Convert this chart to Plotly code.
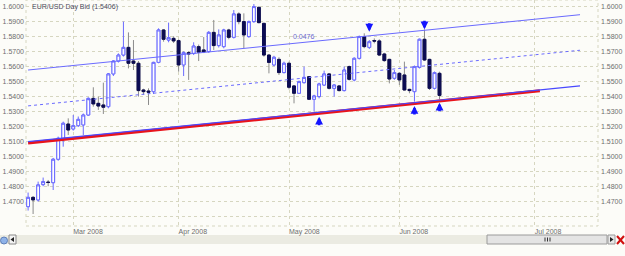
import plotly.graph_objects as go
import pandas as pd

title_text = "EUR/USD Day Bid (1.5406)"

dates = pd.bdate_range("2008-02-19", "2008-06-12")

opens = [1.4664, 1.4726, 1.4709, 1.4811, 1.4828, 1.4824, 1.4980, 1.5120, 1.5215, 1.5182,
         1.5204, 1.5209, 1.5275, 1.5386, 1.5353, 1.5342, 1.5331, 1.5549, 1.5635, 1.5675,
         1.5726, 1.5635, 1.5620, 1.5442, 1.5435, 1.5431, 1.5626, 1.5842, 1.5775, 1.5786,
         1.5771, 1.5609, 1.5691, 1.5686, 1.5731, 1.5709, 1.5698, 1.5826, 1.5738, 1.5731,
         1.5842, 1.5793, 1.5949, 1.5898, 1.5798, 1.5898, 1.5993, 1.5886, 1.5675, 1.5609,
         1.5646, 1.5558, 1.5620, 1.5469, 1.5420, 1.5491, 1.5531, 1.5380, 1.5398, 1.5475,
         1.5549, 1.5453, 1.5469, 1.5438, 1.5598, 1.5509, 1.5653, 1.5798, 1.5726, 1.5772,
         1.5769, 1.5682, 1.5646, 1.5520, 1.5553, 1.5542, 1.5446, 1.5431, 1.5593, 1.5780,
         1.5646, 1.5453, 1.5553]
highs = [1.4758, 1.4735, 1.4831, 1.4858, 1.4842, 1.4989, 1.5131, 1.5231, 1.5253, 1.5275,
         1.5265, 1.5285, 1.5393, 1.5460, 1.5398, 1.5491, 1.5555, 1.5640, 1.5686, 1.5898,
         1.5826, 1.5775, 1.5635, 1.5450, 1.5453, 1.5630, 1.5853, 1.5848, 1.5891, 1.5800,
         1.5780, 1.5700, 1.5700, 1.5760, 1.5745, 1.5795, 1.5835, 1.5909, 1.5846, 1.5850,
         1.5850, 1.5975, 1.5960, 1.5953, 1.5905, 1.6015, 1.5998, 1.5890, 1.5680, 1.5670,
         1.5660, 1.5631, 1.5631, 1.5475, 1.5505, 1.5598, 1.5535, 1.5410, 1.5490, 1.5571,
         1.5555, 1.5480, 1.5475, 1.5598, 1.5605, 1.5660, 1.5805, 1.5820, 1.5775, 1.5786,
         1.5780, 1.5690, 1.5650, 1.5575, 1.5560, 1.5631, 1.5450, 1.5605, 1.5785, 1.5846,
         1.5650, 1.5565, 1.5564]
lows = [1.4638, 1.4615, 1.4698, 1.4800, 1.4800, 1.4775, 1.4970, 1.5064, 1.5142, 1.5171,
        1.5195, 1.5142, 1.5270, 1.5331, 1.5309, 1.5282, 1.5320, 1.5535, 1.5625, 1.5665,
        1.5586, 1.5575, 1.5398, 1.5410, 1.5342, 1.5415, 1.5620, 1.5764, 1.5760, 1.5755,
        1.5564, 1.5535, 1.5509, 1.5675, 1.5635, 1.5688, 1.5690, 1.5709, 1.5725, 1.5720,
        1.5780, 1.5785, 1.5880, 1.5720, 1.5790, 1.5890, 1.5886, 1.5664, 1.5553, 1.5600,
        1.5542, 1.5553, 1.5446, 1.5353, 1.5415, 1.5485, 1.5375, 1.5298, 1.5386, 1.5470,
        1.5445, 1.5398, 1.5432, 1.5432, 1.5505, 1.5500, 1.5645, 1.5720, 1.5715, 1.5753,
        1.5668, 1.5630, 1.5486, 1.5510, 1.5475, 1.5438, 1.5420, 1.5364, 1.5585, 1.5635,
        1.5442, 1.5445, 1.5380]
closes = [1.4726, 1.4709, 1.4809, 1.4831, 1.4825, 1.4980, 1.5120, 1.5220, 1.5175, 1.5204,
          1.5246, 1.5275, 1.5386, 1.5349, 1.5335, 1.5327, 1.5549, 1.5635, 1.5675, 1.5726,
          1.5620, 1.5620, 1.5438, 1.5431, 1.5427, 1.5626, 1.5842, 1.5780, 1.5791, 1.5769,
          1.5609, 1.5691, 1.5682, 1.5735, 1.5694, 1.5696, 1.5826, 1.5738, 1.5809, 1.5842,
          1.5793, 1.5949, 1.5898, 1.5809, 1.5898, 1.5998, 1.5891, 1.5675, 1.5626, 1.5660,
          1.5558, 1.5620, 1.5460, 1.5420, 1.5498, 1.5526, 1.5380, 1.5402, 1.5482, 1.5549,
          1.5453, 1.5475, 1.5438, 1.5575, 1.5513, 1.5653, 1.5798, 1.5731, 1.5764, 1.5768,
          1.5675, 1.5638, 1.5515, 1.5558, 1.5509, 1.5442, 1.5438, 1.5598, 1.5780, 1.5642,
          1.5453, 1.5558, 1.5406]

# channel lines
line_dates = ["2008-02-19", "2008-07-10"]
upper_line = [1.5575, 1.5944]
middle_line = [1.5336, 1.5707]
lower_line = [1.5097, 1.5469]
red_dates = ["2008-02-19", "2008-07-02"]
red_line = [1.5089, 1.5437]
channel_label = "0.0476"
channel_label_date = "2008-05-06"
channel_label_price = 1.5762

# signal arrows: candle index and tip price
down_arrow_idx = [68, 79]
down_arrow_tip = [1.5831, 1.5847]
up_arrow_idx = [58, 77, 82]
up_arrow_tip = [1.5264, 1.5335, 1.5357]

price_ticks = [1.46, 1.47, 1.48, 1.49, 1.50, 1.51, 1.52, 1.53, 1.54, 1.55, 1.56, 1.57, 1.58, 1.59, 1.60]
price_labels = ["", "1.4700", "1.4800", "1.4900", "1.5000", "1.5100", "1.5200", "1.5300",
                "1.5400", "1.5500", "1.5600", "1.5700", "1.5800", "1.5900", "1.6000"]
month_labels = ["Mar 2008", "Apr 2008", "May 2008", "Jun 2008", "Jul 2008"]
extra_month_start = "2008-07-01"

# ---- derived ----
date_str = [d.strftime("%Y-%m-%d") for d in dates]
month_ticks = []
seen = set()
for d in dates:
    key = (d.year, d.month)
    if key not in seen:
        seen.add(key)
        if d.month >= 3:
            month_ticks.append(d.strftime("%Y-%m-%d"))
month_ticks.append(extra_month_start)

weekend_breaks = []
for a, b in zip(dates[:-1], dates[1:]):
    if (b - a).days > 1:
        weekend_breaks.append((a + pd.Timedelta(days=1)).strftime("%Y-%m-%d"))

body_hi = [max(o, c) for o, c in zip(opens, closes)]
body_lo = [min(o, c) for o, c in zip(opens, closes)]

UP = "#6a6aff"
NAVY = "#0c0c52"
WICK_DN = "#8c8c8c"
GRID = "#d6d6c0"
BG = "#fcfcf8"
TXT = "#6e6e6e"
ARROW = "#1414ff"
FONT = "Liberation Sans, Arial, sans-serif"

fig = go.Figure()

fig.add_trace(go.Scatter(x=line_dates, y=upper_line, mode="lines",
                         line=dict(color=UP, width=1), hoverinfo="skip", showlegend=False))
fig.add_trace(go.Scatter(x=line_dates, y=middle_line, mode="lines",
                         line=dict(color=UP, width=1, dash="dot"), hoverinfo="skip", showlegend=False))
fig.add_trace(go.Scatter(x=red_dates, y=red_line, mode="lines",
                         line=dict(color="#e8141c", width=3), hoverinfo="skip", showlegend=False))
fig.add_trace(go.Scatter(x=line_dates, y=lower_line, mode="lines",
                         line=dict(color="#4848ff", width=1.2), hoverinfo="skip", showlegend=False))

# full candles (wicks)
fig.add_trace(go.Candlestick(
    x=date_str, open=opens, high=highs, low=lows, close=closes,
    increasing=dict(line=dict(color=UP, width=1), fillcolor="#ffffff"),
    decreasing=dict(line=dict(color=WICK_DN, width=1), fillcolor=NAVY),
    whiskerwidth=0, hoverinfo="skip", showlegend=False))
# bodies on top
fig.add_trace(go.Candlestick(
    x=date_str, open=opens, high=body_hi, low=body_lo, close=closes,
    increasing=dict(line=dict(color=UP, width=1), fillcolor="#ffffff"),
    decreasing=dict(line=dict(color=NAVY, width=1), fillcolor=NAVY),
    whiskerwidth=0, hoverinfo="skip", showlegend=False))

# helper trace for right-side axis
fig.add_trace(go.Scatter(x=[date_str[0]], y=[closes[0]], yaxis="y2", mode="markers",
                         marker=dict(opacity=0), hoverinfo="skip", showlegend=False))

annotations = []
annotations.append(dict(xref="paper", yref="paper", x=0.007, y=0.995, xanchor="left", yanchor="top",
                        text=title_text, showarrow=False,
                        font=dict(family=FONT, size=7, color="#4c4c60")))
annotations.append(dict(x=channel_label_date, y=channel_label_price, xanchor="center", yanchor="bottom",
                        text=channel_label, showarrow=False,
                        font=dict(family=FONT, size=7, color="#6a6ad0")))
for i, tip in zip(down_arrow_idx, down_arrow_tip):
    annotations.append(dict(x=date_str[i], y=tip, ax=0, ay=-10, text="", showarrow=True,
                            arrowhead=2, arrowsize=0.6, arrowwidth=2.6, arrowcolor=ARROW))
for i, tip in zip(up_arrow_idx, up_arrow_tip):
    annotations.append(dict(x=date_str[i], y=tip, ax=0, ay=10, text="", showarrow=True,
                            arrowhead=2, arrowsize=0.6, arrowwidth=2.6, arrowcolor=ARROW))

# pixel -> paper helpers for decorative scrollbar
PL, PR, PT, PB = 26, 598, 0, 226
def px(x):
    return (x - PL) / (PR - PL)
def py(y):
    return (PB - y) / (PB - PT)

shapes = [
    dict(type="rect", xref="paper", yref="paper", x0=0, x1=1, y0=0, y1=1,
         line=dict(color=GRID, width=1, dash="dot"), layer="below"),
    dict(type="rect", xref="paper", yref="paper", x0=px(0), x1=px(487), y0=py(244), y1=py(235),
         line=dict(width=0), fillcolor="#ebebe2", layer="below"),
    dict(type="rect", xref="paper", yref="paper", x0=px(487), x1=px(607), y0=py(244), y1=py(235),
         line=dict(color="#9a9a9a", width=1), fillcolor="#e4e4e4"),
    dict(type="rect", xref="paper", yref="paper", x0=px(608), x1=px(615), y0=py(244), y1=py(235),
         line=dict(color="#9a9a9a", width=1), fillcolor="#e8e8e8"),
    dict(type="path", xref="paper", yref="paper",
         path=f"M {px(610)} {py(237)} L {px(613.5)} {py(239.5)} L {px(610)} {py(242)} Z",
         fillcolor="#222222", line=dict(width=0)),
    dict(type="line", xref="paper", yref="paper", x0=px(617), x1=px(624), y0=py(236), y1=py(244),
         line=dict(color="#d01010", width=2)),
    dict(type="line", xref="paper", yref="paper", x0=px(617), x1=px(624), y0=py(244), y1=py(236),
         line=dict(color="#d01010", width=2)),
    dict(type="circle", xref="paper", yref="paper", x0=px(0.5), x1=px(7.5), y0=py(244), y1=py(237),
         fillcolor="#8fb3e8", line=dict(color="#5f7fb8", width=1)),
    dict(type="rect", xref="paper", yref="paper", x0=px(9), x1=px(16), y0=py(244), y1=py(235),
         line=dict(color="#8a8a8a", width=1), fillcolor="#f4f4f4"),
    dict(type="path", xref="paper", yref="paper",
         path=f"M {px(14)} {py(237)} L {px(10.5)} {py(239.5)} L {px(14)} {py(242)} Z",
         fillcolor="#222222", line=dict(width=0)),
]
for gx in (545, 547.5, 550):
    shapes.append(dict(type="line", xref="paper", yref="paper", x0=px(gx), x1=px(gx),
                       y0=py(237.5), y1=py(241.5), line=dict(color="#333333", width=1)))

fig.update_layout(
    width=625, height=256,
    margin=dict(l=PL, r=625 - PR, t=PT, b=256 - PB),
    paper_bgcolor=BG, plot_bgcolor=BG,
    showlegend=False,
    boxgap=0.2,
    font=dict(family=FONT, size=7, color=TXT),
    xaxis=dict(
        type="date",
        range=["2008-02-18 14:00", "2008-07-13 14:00"],
        rangeslider=dict(visible=False),
        rangebreaks=[dict(values=weekend_breaks, dvalue=2 * 86400000)],
        tickmode="array", tickvals=month_ticks, ticktext=month_labels,
        ticklabelposition="outside right",
        ticks="", showline=False, zeroline=False,
        showgrid=True, gridcolor=GRID, griddash="dot", gridwidth=1,
        tickfont=dict(family=FONT, size=7, color=TXT),
    ),
    yaxis=dict(
        range=[1.4535, 1.6042],
        tickmode="array", tickvals=price_ticks, ticktext=price_labels,
        ticks="", showline=False, zeroline=False,
        showgrid=True, gridcolor=GRID, griddash="dot", gridwidth=1,
        tickfont=dict(family=FONT, size=7, color=TXT),
        ticklabelstandoff=1,
    ),
    yaxis2=dict(
        overlaying="y", side="right",
        range=[1.4535, 1.6042],
        tickmode="array", tickvals=price_ticks, ticktext=price_labels,
        ticks="", showline=False, zeroline=False, showgrid=False,
        tickfont=dict(family=FONT, size=7, color=TXT),
        ticklabelstandoff=2,
    ),
    annotations=annotations,
    shapes=shapes,
)

fig.write_html("out.html", config={"displayModeBar": False})
